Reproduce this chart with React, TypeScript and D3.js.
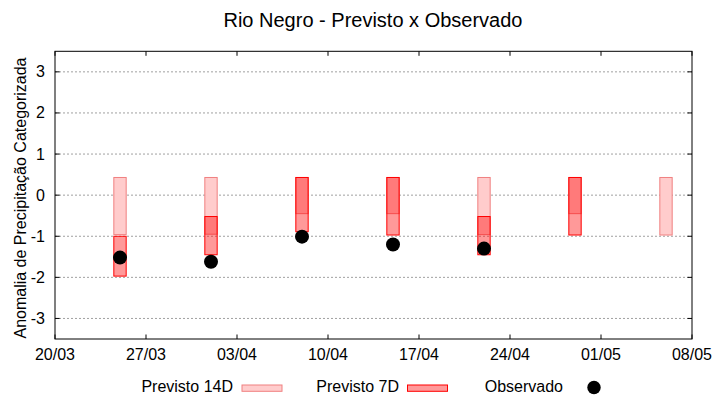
import React from 'react';
import * as d3 from 'd3';

// semanas da previsão (data central de cada barra)
const forecastDates = ['2023-03-25', '2023-04-01', '2023-04-08', '2023-04-15', '2023-04-22', '2023-04-29', '2023-05-06'];

// Previsto 14D: limite superior / inferior
const prev14Top = [0.43, 0.43, 0.43, 0.43, 0.43, 0.43, 0.43];
const prev14Bottom = [-0.96, -0.95, -0.45, -0.45, -0.96, -0.45, -0.97];

// Previsto 7D: limite superior / inferior (null = sem previsão)
const prev7Top: (number | null)[] = [-1.0, -0.52, 0.43, 0.43, -0.52, 0.43, null];
const prev7Bottom: (number | null)[] = [-1.97, -1.45, -0.89, -0.97, -1.45, -0.97, null];

// Observado
const obsDates = ['2023-03-25', '2023-04-01', '2023-04-08', '2023-04-15', '2023-04-22'];
const obsValues = [-1.52, -1.62, -1.01, -1.2, -1.3];

const xTickLabels = ['20/03', '27/03', '03/04', '10/04', '17/04', '24/04', '01/05', '08/05'];
const yTicks = [-3, -2, -1, 0, 1, 2, 3];

const W = 720;
const H = 400;
const left = 55;
const right = 692;
const top = 51.3;
const bottom = 339;
const FONT = '"Liberation Sans", Arial, sans-serif';

const parse = d3.timeParse('%Y-%m-%d');
const dayMs = 24 * 3600 * 1000;

export default function App() {
  const x = d3
    .scaleTime()
    .domain([parse('2023-03-20')!, parse('2023-05-08')!])
    .range([left, right]);
  const y = d3.scaleLinear().domain([-3.5, 3.5]).range([bottom, top]);

  const xTicks = d3.timeDay.range(parse('2023-03-20')!, d3.timeDay.offset(parse('2023-05-08')!, 1), 7);
  const fmt = d3.timeFormat('%d/%m');

  const boxW = (d: Date) => x(new Date(d.getTime() + 0.95 * dayMs)) - x(d);
  const tick = 4.5;

  return (
    <svg width={W} height={H} style={{ position: 'absolute', left: 0, top: 0, background: '#fff' }} fontFamily={FONT}>
      <rect x={0} y={0} width={W} height={H} fill="#fff" />
      <text x={373} y={27} textAnchor="middle" fontSize={20} fill="#000">
        Rio Negro - Previsto x Observado
      </text>

      {/* grade */}
      {yTicks.map(t => (
        <line key={'g' + t} x1={left} x2={right} y1={y(t)} y2={y(t)} stroke="#a0a0a0" strokeWidth={1} strokeDasharray="2,2" />
      ))}

      {/* Previsto 14D */}
      {forecastDates.map((ds, i) => {
        const d = parse(ds)!;
        const w = boxW(d);
        return (
          <rect
            key={'p14' + i}
            x={x(d) - w / 2}
            y={y(prev14Top[i])}
            width={w}
            height={y(prev14Bottom[i]) - y(prev14Top[i])}
            fill="#ffcccc"
            stroke="#f08080"
            strokeWidth={1}
          />
        );
      })}

      {/* Previsto 7D */}
      {forecastDates.map((ds, i) => {
        const t = prev7Top[i];
        const b = prev7Bottom[i];
        if (t === null || b === null) return null;
        const d = parse(ds)!;
        const w = boxW(d);
        return (
          <rect
            key={'p7' + i}
            x={x(d) - w / 2}
            y={y(t)}
            width={w}
            height={y(b) - y(t)}
            fill="rgba(255,0,0,0.4)"
            stroke="#ff0000"
            strokeWidth={1}
          />
        );
      })}

      {/* Observado */}
      {obsDates.map((ds, i) => (
        <circle key={'o' + i} cx={x(parse(ds)!)} cy={y(obsValues[i])} r={7} fill="#000" />
      ))}

      {/* moldura e marcas */}
      <rect x={left} y={top} width={right - left} height={bottom - top} fill="none" stroke="#000" strokeWidth={1} />
      {yTicks.map(t => (
        <g key={'yt' + t}>
          <line x1={left} x2={left + tick} y1={y(t)} y2={y(t)} stroke="#000" />
          <line x1={right} x2={right - tick} y1={y(t)} y2={y(t)} stroke="#000" />
          <text x={45} y={y(t) + 5.5} textAnchor="end" fontSize={16} fill="#000">
            {t}
          </text>
        </g>
      ))}
      {xTicks.map((d, i) => (
        <g key={'xt' + i}>
          <line x1={x(d)} x2={x(d)} y1={bottom} y2={bottom - tick} stroke="#000" />
          <line x1={x(d)} x2={x(d)} y1={top} y2={top + tick} stroke="#000" />
          <text x={x(d)} y={360} textAnchor="middle" fontSize={16} fill="#000">
            {xTickLabels[i] ?? fmt(d)}
          </text>
        </g>
      ))}

      <text transform={`translate(26,198) rotate(-90)`} textAnchor="middle" fontSize={16} fill="#000">
        Anomalia de Precipitação Categorizada
      </text>

      {/* legenda */}
      <text x={233} y={392} textAnchor="end" fontSize={16} fill="#000">Previsto 14D</text>
      <rect x={242} y={385} width={40} height={6.3} fill="#ffcccc" stroke="#f08080" />
      <text x={399} y={392} textAnchor="end" fontSize={16} fill="#000">Previsto 7D</text>
      <rect x={407.5} y={385} width={40} height={6.3} fill="rgba(255,0,0,0.4)" stroke="#ff0000" />
      <text x={563} y={392} textAnchor="end" fontSize={16} fill="#000">Observado</text>
      <circle cx={594} cy={387.5} r={6.7} fill="#000" />
    </svg>
  );
}
